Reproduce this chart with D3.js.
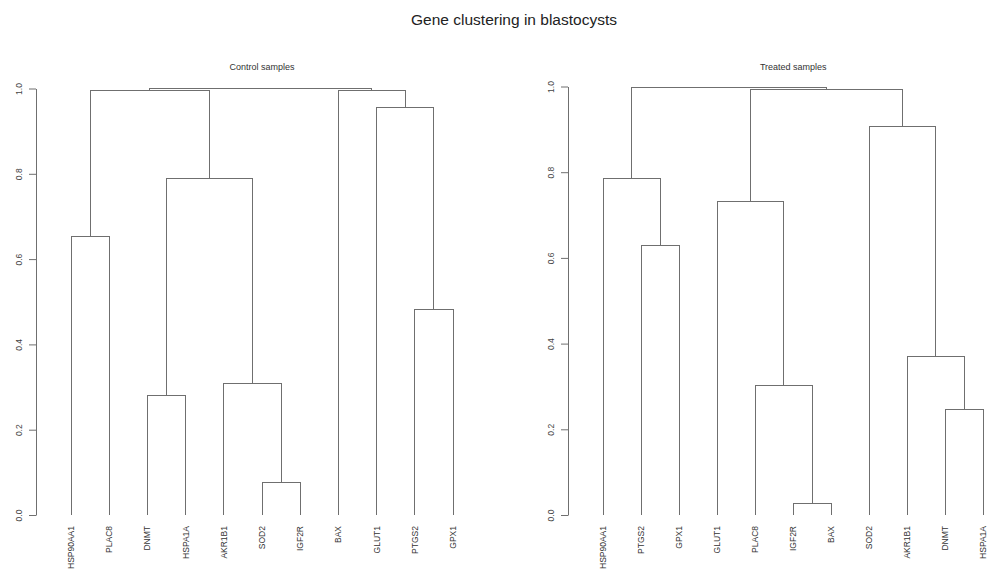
<!DOCTYPE html>
<html>
<head>
<meta charset="utf-8">
<script src="https://cdn.jsdelivr.net/npm/d3@7"></script>
<style>
  html, body { margin: 0; padding: 0; background: #fff; }
  svg { display: block; font-family: "Liberation Sans", Arial, Helvetica, sans-serif; }
</style>
</head>
<body>
<svg id="chart" width="988" height="570"></svg>
<script>
// Leaf order of each dendrogram (left to right)
const controlLabels = ["HSP90AA1", "PLAC8", "DNMT", "HSPA1A", "AKR1B1", "SOD2", "IGF2R", "BAX", "GLUT1", "PTGS2", "GPX1"];
const treatedLabels = ["HSP90AA1", "PTGS2", "GPX1", "GLUT1", "PLAC8", "IGF2R", "BAX", "SOD2", "AKR1B1", "DNMT", "HSPA1A"];

// Merge steps: a string is a gene, a number is an earlier merge step (1-based)
const controlMerges = [
  ["SOD2", "IGF2R"], ["DNMT", "HSPA1A"], ["AKR1B1", 1], ["PTGS2", "GPX1"], ["HSP90AA1", "PLAC8"],
  [2, 3], ["GLUT1", 4], [5, 6], ["BAX", 7], [8, 9]
];
const controlHeights = [0.076, 0.281, 0.309, 0.482, 0.653, 0.788, 0.955, 0.995, 0.996, 1.0];

const treatedMerges = [
  ["IGF2R", "BAX"], ["DNMT", "HSPA1A"], ["PLAC8", 1], ["AKR1B1", 2], ["PTGS2", "GPX1"],
  ["GLUT1", 3], ["HSP90AA1", 5], ["SOD2", 4], [6, 8], [7, 9]
];
const treatedHeights = [0.027, 0.247, 0.302, 0.369, 0.628, 0.731, 0.786, 0.906, 0.994, 0.997];

const heightTicks = [0, 0.2, 0.4, 0.6, 0.8, 1.0];

const svg = d3.select("#chart");
const lineColor = "#6f6f6f";

svg.append("text")
  .attr("x", 514).attr("y", 25)
  .attr("text-anchor", "middle")
  .attr("font-size", 15.5)
  .attr("fill", "#222")
  .text("Gene clustering in blastocysts");

function dendrogram(opts) {
  const { labels, merges, heights, title, axisX, firstLeaf, lastLeaf, yTop } = opts;
  const g = svg.append("g");

  const x = d3.scaleLinear().domain([0, labels.length - 1]).range([firstLeaf, lastLeaf]);
  const y = d3.scaleLinear().domain([0, 1]).range([515, yTop]);

  // position of a gene or a merged cluster
  const pos = {};
  labels.forEach((l, i) => { pos[l] = { x: x(i), h: 0 }; });
  const nodeOf = k => typeof k === "string" ? pos[k] : pos["#" + k];

  const path = d3.path();
  merges.forEach((m, i) => {
    const a = nodeOf(m[0]), b = nodeOf(m[1]);
    const h = heights[i];
    path.moveTo(a.x, y(a.h));
    path.lineTo(a.x, y(h));
    path.lineTo(b.x, y(h));
    path.lineTo(b.x, y(b.h));
    pos["#" + (i + 1)] = { x: (a.x + b.x) / 2, h: h };
  });

  g.append("path")
    .attr("d", path.toString())
    .attr("fill", "none")
    .attr("stroke", lineColor)
    .attr("stroke-width", 1)
    .attr("shape-rendering", "crispEdges");

  // leaf labels, rotated to read upward
  g.selectAll("text.leaf")
    .data(labels)
    .join("text")
    .attr("class", "leaf")
    .attr("transform", (d, i) => `translate(${x(i)},526) rotate(-90)`)
    .attr("text-anchor", "end")
    .attr("dy", "0.35em")
    .attr("font-size", 8.5)
    .attr("fill", "#333")
    .text(d => d);

  // height axis
  const axis = d3.axisLeft(y)
    .tickValues(heightTicks)
    .tickFormat(d3.format(".1f"))
    .tickSize(7)
    .tickSizeOuter(0);
  const ax = g.append("g")
    .attr("transform", `translate(${axisX},0)`)
    .call(axis);
  ax.select(".domain").attr("stroke", lineColor);
  ax.selectAll(".tick line").attr("stroke", lineColor);
  ax.selectAll(".tick text")
    .attr("transform", "rotate(-90)")
    .attr("x", 0)
    .attr("y", -14)
    .attr("dy", "0em")
    .attr("text-anchor", "middle")
    .attr("font-size", 8.5)
    .attr("font-family", "Liberation Sans, Arial, sans-serif")
    .attr("fill", "#444");

  g.append("text")
    .attr("x", (axisX + lastLeaf + 35) / 2)
    .attr("y", 70)
    .attr("text-anchor", "middle")
    .attr("font-size", 9)
    .attr("fill", "#333")
    .text(title);
}

dendrogram({
  labels: controlLabels, merges: controlMerges, heights: controlHeights,
  title: "Control samples", axisX: 36, firstLeaf: 71, lastLeaf: 453, yTop: 88.5
});
dendrogram({
  labels: treatedLabels, merges: treatedMerges, heights: treatedHeights,
  title: "Treated samples", axisX: 568, firstLeaf: 603, lastLeaf: 983.5, yTop: 86.5
});
</script>
</body>
</html>
